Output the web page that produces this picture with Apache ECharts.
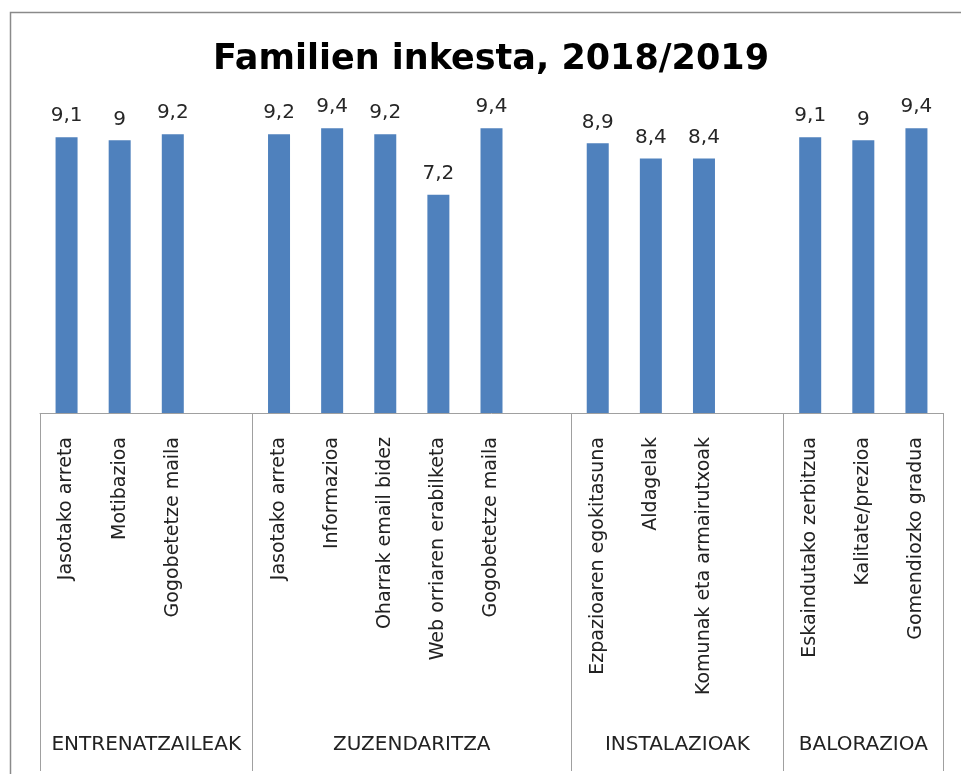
<!DOCTYPE html>
<html>
<head>
<meta charset="utf-8">
<script src="https://cdn.jsdelivr.net/npm/echarts@6/dist/echarts.min.js"></script>
<style>
  html, body { margin: 0; padding: 0; background: #fff; }
  #chart { width: 961px; height: 774px; }
</style>
</head>
<body>
<div id="chart"></div>
<script>
// groups and their items (a blank slot separates the groups, as in the sheet)
const groups = ["ENTRENATZAILEAK", "ZUZENDARITZA", "INSTALAZIOAK", "BALORAZIOA"];
const groupItems = [
  ["Jasotako arreta", "Motibazioa", "Gogobetetze maila"],
  ["Jasotako arreta", "Informazioa", "Oharrak email bidez", "Web orriaren erabilketa", "Gogobetetze maila"],
  ["Ezpazioaren egokitasuna", "Aldagelak", "Komunak eta armairutxoak"],
  ["Eskaindutako zerbitzua", "Kalitate/prezioa", "Gomendiozko gradua"],
];
const groupValues = [
  [9.1, 9.0, 9.2],
  [9.2, 9.4, 9.2, 7.2, 9.4],
  [8.9, 8.4, 8.4],
  [9.1, 9.0, 9.4],
];

// flatten into one category axis with a spacer after every group but the last
const categories = [];
const values = [];
const boundaries = [0];
const groupCenters = [];
groupItems.forEach((items, g) => {
  const start = categories.length;
  items.forEach((name, i) => {
    categories.push(name);
    values.push(groupValues[g][i]);
  });
  if (g < groupItems.length - 1) {
    categories.push("");
    values.push("-");
  }
  boundaries.push(categories.length);
  groupCenters.push((start + categories.length) / 2);
});

const font = "DejaVu Sans";
const chart = echarts.init(document.getElementById("chart"), null, { renderer: "canvas" });

chart.setOption({
  backgroundColor: "#fff",
  animation: false,
  title: {
    text: "Familien inkesta, 2018/2019",
    left: 486,
    textAlign: "center",
    top: 37,
    textStyle: { fontFamily: font, fontWeight: "bold", fontSize: 35, color: "#000" },
  },
  graphic: [
    {
      type: "rect",
      shape: { x: 10.5, y: 12.5, width: 1000, height: 800 },
      style: { fill: null, stroke: "#8a8a8a", lineWidth: 1.5 },
      silent: true,
    },
  ],
  grid: { left: 40, right: 18, top: 110, height: 303, containLabel: false },
  xAxis: [
    {
      type: "category",
      data: categories,
      axisLine: { show: true, lineStyle: { color: "#a0a0a0", width: 1 } },
      axisTick: { show: false },
      axisLabel: {
        interval: 0,
        rotate: 90,
        margin: 24,
        fontFamily: font,
        fontSize: 19,
        color: "#222",
      },
    },
    {
      type: "value",
      position: "bottom",
      min: 0,
      max: categories.length,
      axisLine: { show: false },
      splitLine: { show: false },
      axisTick: {
        show: true,
        inside: false,
        length: 358,
        customValues: boundaries,
        lineStyle: { color: "#a0a0a0", width: 1 },
      },
      axisLabel: {
        customValues: groupCenters,
        margin: 322,
        fontFamily: font,
        fontSize: 20,
        color: "#222",
        formatter: (v) => groups[groupCenters.indexOf(v)] || "",
      },
    },
  ],
  yAxis: {
    type: "value",
    min: 0,
    max: 10,
    show: false,
    splitLine: { show: false },
  },
  series: [
    {
      type: "bar",
      xAxisIndex: 0,
      data: values,
      barWidth: 22,
      itemStyle: { color: "#4f81bd" },
      label: {
        show: true,
        position: "top",
        distance: 11,
        fontFamily: font,
        fontSize: 20,
        color: "#262626",
        formatter: (p) => String(p.value).replace(".", ","),
      },
    },
  ],
});
</script>
</body>
</html>
